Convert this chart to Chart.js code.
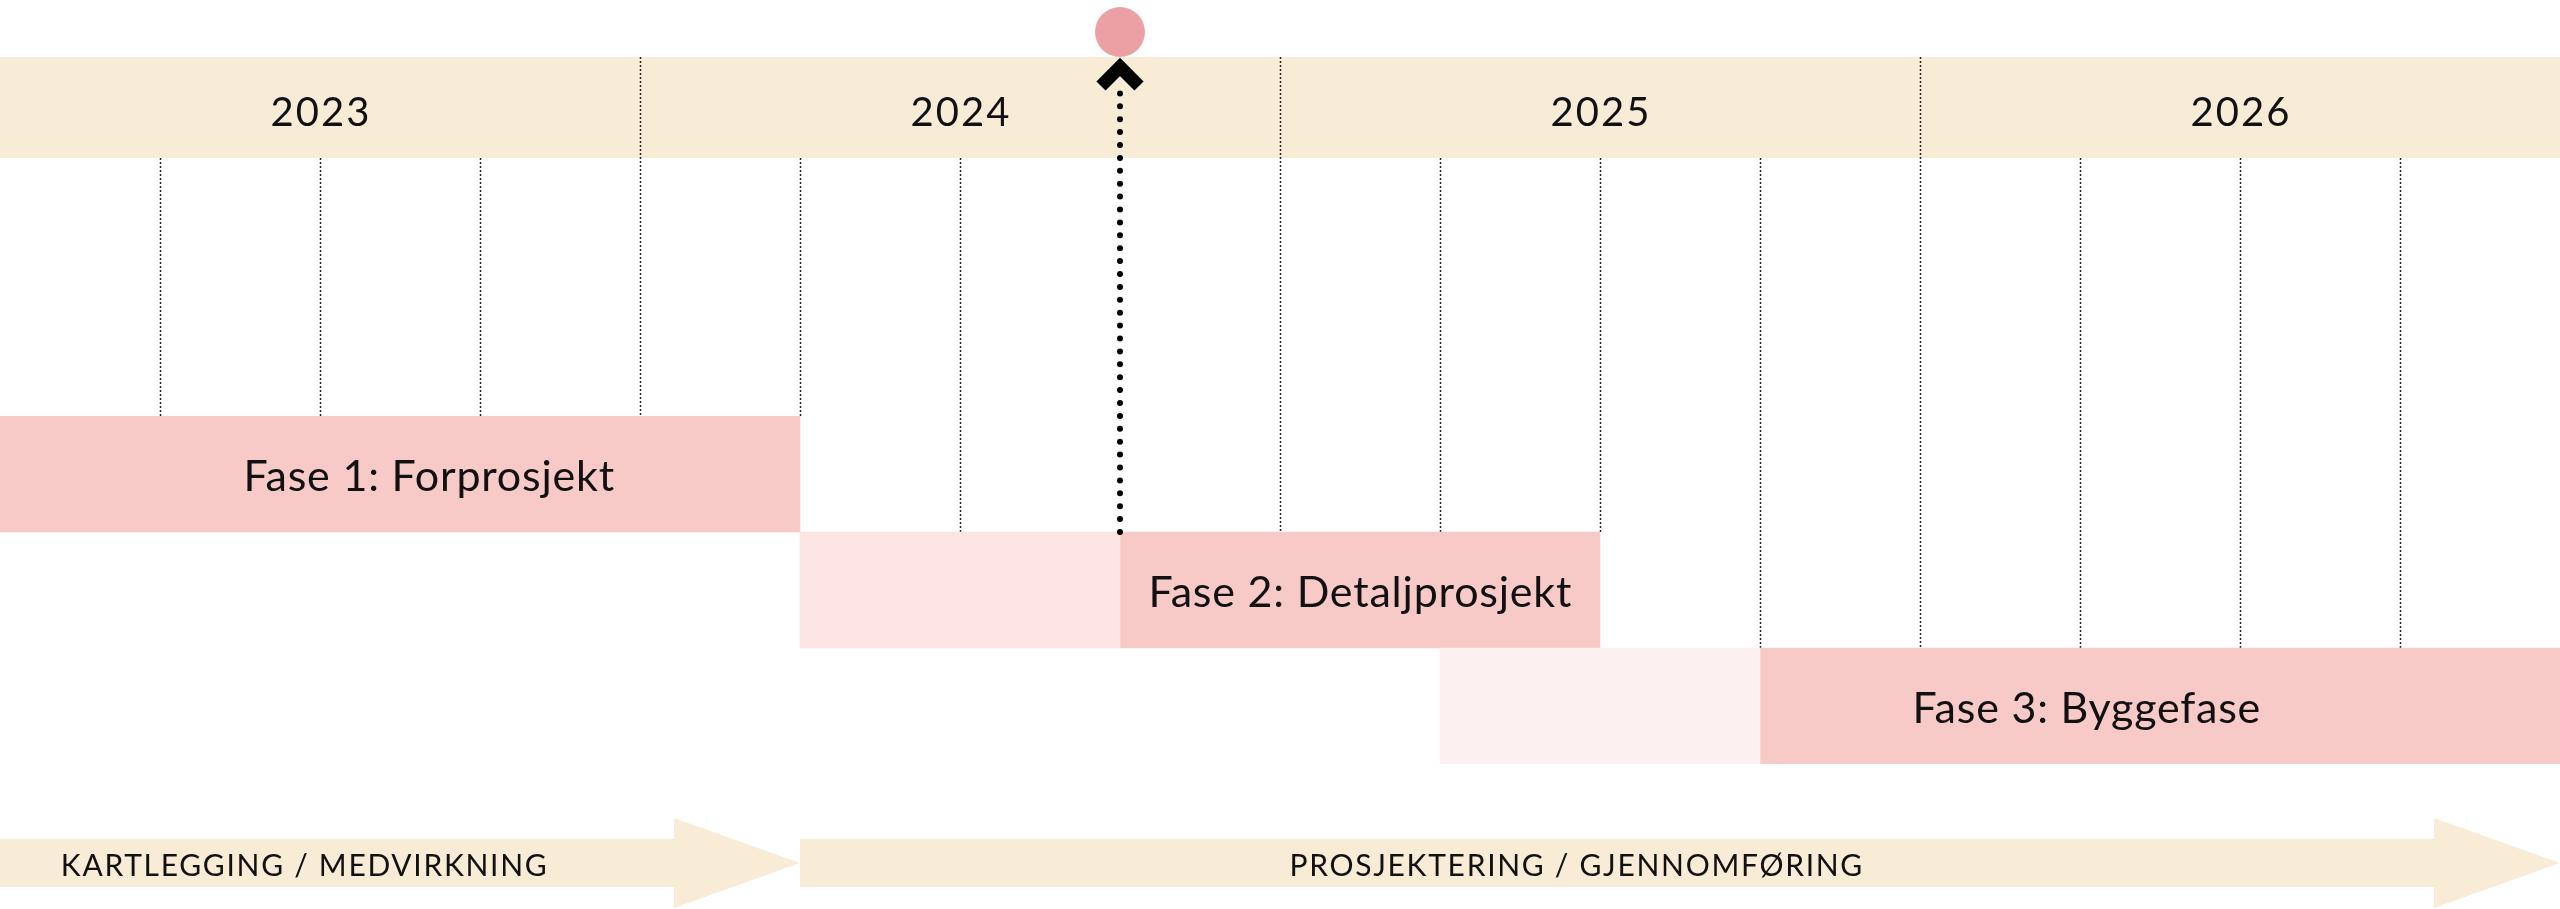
<!DOCTYPE html>
<html lang="no">
<head>
<meta charset="utf-8">
<title>Fremdriftsplan</title>
<script src="https://cdn.jsdelivr.net/npm/chart.js@4/dist/chart.umd.min.js"></script>
<style>
    html, body { margin: 0; padding: 0; background: #fff; }
    #wrap { width: 2560px; height: 909px; position: relative; }
</style>
</head>
<body>
<div id="wrap"><canvas id="plan"></canvas></div>
<script>
// =======================
// DATA
// =======================
const faser = ["Fase 1: Forprosjekt", "Fase 2: Detaljprosjekt", "Fase 3: Byggefase"];
const hovedperiode = [[2023, 2024.25], [2024.75, 2025.5], [2025.75, 2027]];
const forperiode = [null, [2024.25, 2024.75], [2025.25, 2025.75]];
const faseTekstX = [2023.67, 2025.125, 2026.26];

const aar = ["2023", "2024", "2025", "2026"];
const aarMidt = [2023.5, 2024.5, 2025.5, 2026.5];
const kvartaler = [2023.25, 2023.5, 2023.75, 2024, 2024.25, 2024.5, 2024.75, 2025,
    2025.25, 2025.5, 2025.75, 2026, 2026.25, 2026.5, 2026.75];

const milepael = 2024.75;

const pilFra = [2023, 2024.25];
const pilTil = [2024.25, 2027];
const pilTekst = ["KARTLEGGING / MEDVIRKNING", "PROSJEKTERING / GJENNOMFØRING"];
const pilTekstX = [2023.095, 2025.015];

// =======================
// STYLE
// =======================
const FONT = "Lato, 'Open Sans', sans-serif";
const BAND = "#f9ecd7";
const BAND_TOP = 57;
const BAND_BUNN = 158;

function radTopp(chart, rad) {
    const y = chart.scales.y;
    const h = (chart.chartArea.bottom - chart.chartArea.top) / faser.length;
    return y.getPixelForValue(rad) - h / 2;
}

// forste rad som dekker verdien v (linjen stopper der)
function stoppFor(chart, v) {
    for (let i = 0; i < faser.length; i++) {
        const perioder = [hovedperiode[i], forperiode[i]];
        for (const p of perioder) {
            if (p && v >= p[0] - 1e-6 && v <= p[1] + 1e-6) return radTopp(chart, i);
        }
    }
    return chart.chartArea.bottom;
}

// sentrert tekst med bokstavavstand (letterSpacing legger til luft bak siste tegn)
function sentrertTekst(ctx, tekst, x, y, spacing) {
    ctx.letterSpacing = spacing + "px";
    ctx.textAlign = "center";
    ctx.fillText(tekst, x + spacing / 2, y);
    ctx.letterSpacing = "0px";
}

const tidslinjePlugin = {
    id: "tidslinje",
    beforeDatasetsDraw(chart) {
        const ctx = chart.ctx;
        const x = chart.scales.x;
        const left = x.getPixelForValue(2023);
        const right = x.getPixelForValue(2027);

        // aarsbånd
        ctx.save();
        ctx.fillStyle = BAND;
        ctx.fillRect(left, BAND_TOP, right - left, BAND_BUNN - BAND_TOP);

        ctx.fillStyle = "#111";
        ctx.font = `40px ${FONT}`;
        ctx.textBaseline = "alphabetic";
        aar.forEach((a, i) => {
            sentrertTekst(ctx, a, x.getPixelForValue(aarMidt[i]), 126, 2);
        });

        // kvartalslinjer
        ctx.strokeStyle = "#222";
        ctx.lineWidth = 1.5;
        ctx.setLineDash([2, 2]);
        kvartaler.forEach(v => {
            if (Math.abs(v - milepael) < 1e-6) return;
            const px = Math.round(x.getPixelForValue(v)) + 0.5;
            const start = Number.isInteger(v) ? BAND_TOP : BAND_BUNN;
            ctx.beginPath();
            ctx.moveTo(px, start);
            ctx.lineTo(px, stoppFor(chart, v));
            ctx.stroke();
        });
        ctx.setLineDash([]);

        // piler nederst
        const midt = 863;
        pilFra.forEach((fra, i) => {
            const x0 = x.getPixelForValue(fra);
            const x1 = x.getPixelForValue(pilTil[i]);
            const hode = 126;
            ctx.fillStyle = BAND;
            ctx.beginPath();
            ctx.moveTo(x0, midt - 24);
            ctx.lineTo(x1 - hode, midt - 24);
            ctx.lineTo(x1 - hode, midt - 45);
            ctx.lineTo(x1, midt);
            ctx.lineTo(x1 - hode, midt + 45);
            ctx.lineTo(x1 - hode, midt + 24);
            ctx.lineTo(x0, midt + 24);
            ctx.closePath();
            ctx.fill();

            ctx.fillStyle = "#111";
            ctx.font = `30px ${FONT}`;
            ctx.textAlign = "left";
            ctx.letterSpacing = "1.7px";
            ctx.fillText(pilTekst[i], x.getPixelForValue(pilTekstX[i]), midt + 13);
            ctx.letterSpacing = "0px";
        });
        ctx.restore();
    },
    afterDatasetsDraw(chart) {
        const ctx = chart.ctx;
        const x = chart.scales.x;
        const y = chart.scales.y;

        // fasetekster
        ctx.save();
        ctx.fillStyle = "#111";
        ctx.font = `43px ${FONT}`;
        ctx.textBaseline = "alphabetic";
        faser.forEach((f, i) => {
            sentrertTekst(ctx, f, x.getPixelForValue(faseTekstX[i]), y.getPixelForValue(i) + 17, 0.8);
        });

        // milepæl: prikket linje, pilspiss og sirkel
        const mx = x.getPixelForValue(milepael);
        ctx.strokeStyle = "#000";
        ctx.lineWidth = 6;
        ctx.lineCap = "round";
        ctx.setLineDash([0, 12.9]);
        ctx.beginPath();
        ctx.moveTo(mx, stoppFor(chart, milepael));
        ctx.lineTo(mx, 92);
        ctx.stroke();
        ctx.setLineDash([]);

        ctx.lineCap = "butt";
        ctx.lineJoin = "miter";
        ctx.lineWidth = 13;
        ctx.beginPath();
        ctx.moveTo(mx - 19, 86);
        ctx.lineTo(mx, 67);
        ctx.lineTo(mx + 19, 86);
        ctx.stroke();

        ctx.fillStyle = "#eba0a3";
        ctx.beginPath();
        ctx.arc(mx, 32, 25, 0, Math.PI * 2);
        ctx.fill();
        ctx.restore();
    }
};

// =======================
// CHART
// =======================
const ctx = document.getElementById("plan").getContext("2d");

new Chart(ctx, {
    type: "bar",
    data: {
        labels: faser,
        datasets: [
            {
                label: "Forberedelse",
                data: forperiode,
                backgroundColor: ["#fbe4e3", "#fbe4e3", "#fdf0f0"],
                borderWidth: 0
            },
            {
                label: "Fase",
                data: hovedperiode,
                backgroundColor: "#f7cac8",
                borderWidth: 0
            }
        ]
    },
    options: {
        indexAxis: "y",
        responsive: true,
        maintainAspectRatio: false,
        animation: false,
        grouped: false,
        barPercentage: 1,
        categoryPercentage: 1,
        layout: { padding: { top: 416, bottom: 145, left: 0, right: 0 } },
        scales: {
            x: { type: "linear", min: 2023, max: 2027, display: false },
            y: { display: false }
        },
        plugins: {
            legend: { display: false },
            tooltip: { enabled: false }
        }
    },
    plugins: [tidslinjePlugin]
});
</script>
</body>
</html>
